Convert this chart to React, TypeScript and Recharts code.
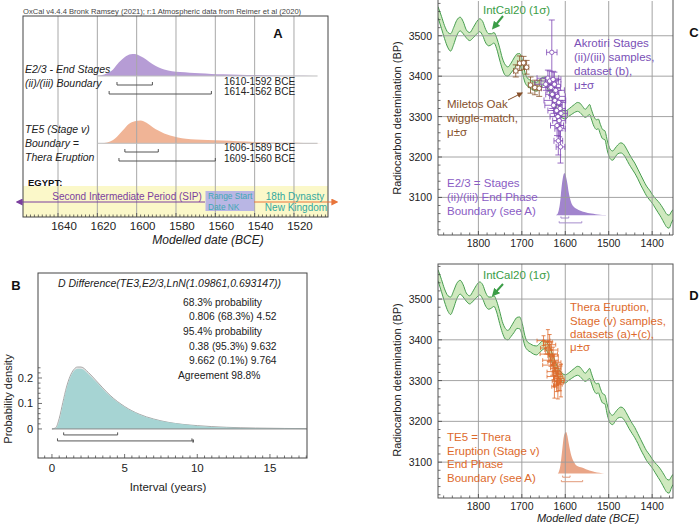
import React from 'react';
import { ComposedChart, Area, Scatter, ErrorBar, XAxis, YAxis, ReferenceLine, ReferenceArea } from 'recharts';

const FONT = '"Liberation Sans", Arial, Helvetica, sans-serif';

// ---- A: boundary distributions (year BCE -> relative density)
const e23Years = [1622, 1618, 1615, 1612, 1609, 1606, 1603, 1601, 1598, 1595, 1592, 1589, 1586, 1582, 1578, 1573, 1568, 1562, 1556, 1548, 1540, 1530, 1520, 1510, 1505];
const e23Density = [0, 0.03, 0.12, 0.3, 0.62, 0.86, 0.99, 1, 0.9, 0.74, 0.54, 0.4, 0.29, 0.22, 0.18, 0.15, 0.12, 0.095, 0.075, 0.055, 0.04, 0.025, 0.012, 0.004, 0];
const te5Years = [1618, 1615, 1612, 1610, 1607, 1604, 1601, 1598, 1595, 1592, 1589, 1586, 1583, 1579, 1575, 1570, 1564, 1556, 1549, 1540, 1532, 1522, 1515, 1505];
const te5Density = [0, 0.04, 0.15, 0.29, 0.57, 0.85, 0.97, 1, 0.9, 0.72, 0.56, 0.43, 0.34, 0.26, 0.2, 0.17, 0.15, 0.12, 0.09, 0.06, 0.04, 0.02, 0.01, 0];
const e23Range68 = [1610, 1592];
const e23Range95 = [1614, 1562];
const te5Range68 = [1606, 1589];
const te5Range95 = [1609, 1560];
const nkRangeStart = [1565, 1540];
const aTicks = [1640, 1620, 1600, 1580, 1560, 1540, 1520];

// ---- B: interval TE3 - E2/3 (years -> probability density)
const intervalX = [0, 0.25, 0.5, 0.75, 1, 1.25, 1.5, 1.75, 2, 2.5, 3, 3.5, 4, 5, 6, 7, 8, 9, 10, 12, 14, 16, 17.5];
const priorDensity = [0, 0.004, 0.041, 0.104, 0.164, 0.207, 0.233, 0.243, 0.243, 0.222, 0.192, 0.161, 0.132, 0.088, 0.058, 0.039, 0.026, 0.018, 0.013, 0.0065, 0.0035, 0.002, 0.0013];
const posteriorDensity = [0, 0.002, 0.03, 0.095, 0.157, 0.2, 0.226, 0.236, 0.236, 0.216, 0.187, 0.157, 0.129, 0.086, 0.057, 0.038, 0.026, 0.018, 0.012, 0.006, 0.003, 0.0015, 0.001];
const diff68 = [0.806, 4.52];
const diff95 = [0.38, 9.632];
const diff95b = [9.662, 9.764];
const bTicksX = [0, 5, 10, 15];
const bTicksY = [0, 0.1, 0.2];

// ---- C/D: IntCal20 1-sigma band (year BCE -> BP)
const calYears = [1893, 1885, 1878, 1870, 1864, 1857, 1850, 1842, 1835, 1828, 1820, 1812, 1805, 1797, 1790, 1783, 1776, 1770, 1764, 1758, 1751, 1745, 1738, 1732, 1725, 1718, 1711, 1705, 1699, 1693, 1687, 1680, 1673, 1666, 1660, 1653, 1647, 1640, 1633, 1626, 1620, 1613, 1606, 1600, 1593, 1586, 1579, 1572, 1566, 1560, 1554, 1548, 1544, 1540, 1534, 1528, 1524, 1519, 1514, 1509, 1503, 1497, 1491, 1485, 1479, 1472, 1466, 1460, 1453, 1446, 1440, 1433, 1426, 1419, 1413, 1406, 1400, 1393, 1386, 1379, 1372, 1366, 1361, 1356, 1352];
const calUpper = [3572, 3548, 3525, 3508, 3505, 3520, 3538, 3546, 3535, 3515, 3508, 3520, 3533, 3542, 3535, 3515, 3505, 3505, 3508, 3495, 3470, 3445, 3428, 3423, 3432, 3445, 3455, 3456, 3440, 3410, 3395, 3390, 3386, 3385, 3390, 3397, 3398, 3390, 3375, 3355, 3338, 3325, 3317, 3314, 3318, 3324, 3330, 3335, 3333, 3325, 3318, 3325, 3330, 3318, 3300, 3292, 3294, 3280, 3268, 3265, 3240, 3220, 3215, 3222, 3230, 3235, 3232, 3222, 3208, 3195, 3185, 3170, 3155, 3140, 3128, 3118, 3108, 3098, 3090, 3080, 3068, 3058, 3056, 3064, 3070];
const calLower = [3545, 3518, 3493, 3470, 3462, 3478, 3500, 3512, 3505, 3495, 3488, 3495, 3503, 3510, 3500, 3482, 3475, 3478, 3482, 3468, 3440, 3418, 3402, 3400, 3408, 3418, 3428, 3427, 3410, 3385, 3375, 3370, 3365, 3363, 3368, 3375, 3378, 3368, 3352, 3333, 3316, 3303, 3296, 3294, 3300, 3305, 3310, 3313, 3310, 3303, 3298, 3302, 3305, 3294, 3276, 3268, 3270, 3256, 3245, 3243, 3215, 3196, 3192, 3200, 3208, 3210, 3206, 3196, 3182, 3170, 3160, 3146, 3130, 3116, 3104, 3094, 3086, 3074, 3062, 3050, 3036, 3026, 3024, 3036, 3045];
const calTicksX = [1800, 1700, 1600, 1500, 1400];
const bpTicks = [3100, 3200, 3300, 3400, 3500];

// Miletos oak wiggle-match
const oakYear = [1714, 1705, 1696, 1689, 1680, 1670, 1660];
const oakBP = [3413, 3432, 3433, 3422, 3378, 3372, 3370];
const oakErrBP = [15, 18, 16, 17, 20, 18, 20];
const oakErrYr = [5, 5, 5, 5, 5, 5, 5];

// Akrotiri stages (ii)/(iii), dataset (b)
const akYear = [1631, 1640, 1636, 1628, 1625, 1633, 1622, 1630, 1618, 1624, 1615, 1627, 1612, 1620, 1610, 1617, 1614, 1619, 1612, 1616, 1611, 1645];
const akBP = [3459, 3395, 3388, 3392, 3380, 3372, 3365, 3355, 3350, 3340, 3335, 3328, 3320, 3315, 3308, 3300, 3290, 3278, 3270, 3240, 3225, 3380];
const akErrBP = [80, 20, 25, 20, 30, 20, 25, 35, 20, 25, 30, 20, 20, 25, 30, 20, 40, 25, 30, 35, 40, 15];
const akErrYr = [12, 25, 20, 18, 15, 22, 20, 15, 18, 25, 15, 20, 12, 20, 15, 18, 15, 15, 12, 10, 10, 25];

// Thera eruption stage (v), datasets (a)+(c)
const thYear = [1650, 1640, 1636, 1645, 1632, 1638, 1628, 1634, 1625, 1630, 1622, 1627, 1618, 1624, 1615, 1620, 1612, 1617, 1610, 1625];
const thBP = [3398, 3395, 3388, 3380, 3375, 3365, 3360, 3350, 3345, 3338, 3330, 3322, 3318, 3310, 3305, 3298, 3295, 3290, 3300, 3285];
const thErrBP = [12, 30, 25, 15, 20, 18, 22, 15, 20, 25, 18, 20, 25, 22, 30, 25, 20, 35, 40, 28];
const thErrYr = [15, 10, 14, 12, 15, 20, 12, 18, 15, 22, 12, 15, 10, 18, 12, 10, 8, 10, 8, 6];

const seq = (a: number, b: number, step: number) => {
  const out: number[] = [];
  for (let v = a; v <= b + 1e-9; v += step) out.push(Math.round(v * 1000) / 1000);
  return out;
};
const isMajor = (list: number[], v: number) => list.some((m) => Math.abs(m - v) < 1e-6);

const xTick = (majors: number[], gap: number, size: number, dx = 0) => (props: any) => {
  const { x, y, payload } = props;
  const major = isMajor(majors, payload.value);
  return (
    <g>
      <line x1={x} x2={x} y1={y} y2={y - (major ? 4 : 2.5)} stroke="#333" strokeWidth={0.7} />
      {major && (
        <text x={x + dx} y={y + gap} textAnchor="middle" dominantBaseline="central" fontSize={size} fill="#222" fontFamily={FONT}>
          {payload.value}
        </text>
      )}
    </g>
  );
};

const yTick = (majors: number[], gap: number, size: number) => (props: any) => {
  const { x, y, payload } = props;
  const major = isMajor(majors, payload.value);
  return (
    <g>
      <line x1={x} x2={x + (major ? 4 : 2.5)} y1={y} y2={y} stroke="#333" strokeWidth={0.7} />
      {major && (
        <text x={x - gap} y={y} textAnchor="end" dominantBaseline="central" fontSize={size} fill="#222" fontFamily={FONT}>
          {payload.value}
        </text>
      )}
    </g>
  );
};

function bracket(key: string, r: number[], y: number, h: number, color: string, yAxisId: any = 0, w = 1) {
  const p: any = { stroke: color, strokeWidth: w, yAxisId, ifOverflow: 'visible' };
  return [
    <ReferenceLine key={key + 'h'} segment={[{ x: r[0], y }, { x: r[1], y }]} {...p} />,
    <ReferenceLine key={key + 'a'} segment={[{ x: r[0], y }, { x: r[0], y: y + h }]} {...p} />,
    <ReferenceLine key={key + 'b'} segment={[{ x: r[1], y }, { x: r[1], y: y + h }]} {...p} />,
  ];
}

const e23Data = e23Years.map((x, i) => ({ x, d: e23Density[i] }));
const te5Data = te5Years.map((x, i) => ({ x, d: te5Density[i] }));
const priorData = intervalX.map((x, i) => ({ x, d: priorDensity[i] }));
const postData = intervalX.map((x, i) => ({ x, d: posteriorDensity[i] }));
const calData = calYears.map((x, i) => ({ x, band: [calLower[i], calUpper[i]] }));
const oakData = oakYear.map((x, i) => ({ x, y: oakBP[i], ey: oakErrBP[i], ex: oakErrYr[i] }));
const akData = akYear.map((x, i) => ({ x, y: akBP[i], ey: akErrBP[i], ex: akErrYr[i] }));
const thData = thYear.map((x, i) => ({ x, y: thBP[i], ey: thErrBP[i], ex: thErrYr[i] }));

const PURPLE = '#7d46b4';
const ORANGE = '#dd6a2c';
const BROWN = '#86502a';
const GREEN = '#3b9d47';
const GRID = '#9a9a9a';

const openCircle = (color: string, r: number) => (p: any) => (
  <circle cx={p.cx} cy={p.cy} r={r} fill="#fff" stroke={color} strokeWidth={0.8} />
);
const dot = (color: string, r: number) => (p: any) => <circle cx={p.cx} cy={p.cy} r={r} fill={color} />;

function PanelA() {
  return (
    <ComposedChart width={350} height={250} margin={{ top: 16, right: 22, bottom: 13, left: 23 }}>
      <XAxis type="number" dataKey="x" domain={[1502.7, 1657.8]} reversed allowDataOverflow ticks={seq(1504, 1656, 2)} interval={0}
        tickSize={0} tickMargin={0} tickLine={false} axisLine={false} height={20} tick={xTick(aTicks, 9, 11.5, 6)} />
      <YAxis hide type="number" domain={[0, 201]} allowDataOverflow />
      <YAxis hide yAxisId="p" type="number" domain={[-6.409, 2.727]} allowDataOverflow />
      <YAxis hide yAxisId="o" type="number" domain={[-3.247, 5.608]} allowDataOverflow />
      <ReferenceArea y1={0} y2={31} fill="#fbf8c9" fillOpacity={1} stroke="none" />
      <ReferenceArea x1={nkRangeStart[0]} x2={nkRangeStart[1]} y1={6} y2={26} fill="#b9b6e4" fillOpacity={1} stroke="none" />
      {aTicks.map((t) => (
        <ReferenceLine key={'ga' + t} x={t} stroke="#a8a8a8" strokeWidth={1} />
      ))}
      <ReferenceLine yAxisId="p" segment={[{ x: 1620, y: 0 }, { x: 1508, y: 0 }]} stroke="#bdbdbd" />
      <ReferenceLine yAxisId="o" segment={[{ x: 1620, y: 0 }, { x: 1508, y: 0 }]} stroke="#bdbdbd" />
      <Area yAxisId="p" data={e23Data} dataKey="d" type="monotone" fill="#b69cd5" fillOpacity={1} stroke="none" isAnimationActive={false} />
      <Area yAxisId="o" data={te5Data} dataKey="d" type="monotone" fill="#f0b496" fillOpacity={1} stroke="none" isAnimationActive={false} />
      {bracket('e68', e23Range68, 132, 3, '#555')}
      {bracket('e95', e23Range95, 123, 3, '#555')}
      {bracket('t68', te5Range68, 65, 3, '#555')}
      {bracket('t95', te5Range95, 56, 3, '#555')}
    </ComposedChart>
  );
}

function PanelB() {
  return (
    <ComposedChart width={350} height={274} margin={{ top: 23, right: 43, bottom: 46, left: 8 }}>
      <XAxis type="number" dataKey="x" domain={[-0.96, 17.55]} allowDataOverflow ticks={seq(-0.5, 17.5, 0.5)} interval={0}
        tickSize={0} tickMargin={0} tickLine={false} axisLine={false} height={20} tick={xTick(bTicksX, 10, 11.5)} />
      <YAxis type="number" dataKey="y" domain={[-0.114, 0.612]} allowDataOverflow ticks={seq(0, 0.24, 0.02)} interval={0}
        tickSize={0} tickMargin={0} tickLine={false} axisLine={false} width={30} tick={yTick(bTicksY, 5, 11)} />
      <ReferenceLine segment={[{ x: 0, y: 0 }, { x: 17.55, y: 0 }]} stroke="#8a8a8a" />
      <Area data={priorData} dataKey="d" type="monotone" fill="#e6e6e6" fillOpacity={1} stroke="#a9a9a9" strokeWidth={1} isAnimationActive={false} />
      <Area data={postData} dataKey="d" type="monotone" fill="#a6d4d3" fillOpacity={1} stroke="none" isAnimationActive={false} />
      {bracket('d68', diff68, -0.0235, 0.01, '#555')}
      {bracket('d95', diff95, -0.047, 0.01, '#555')}
      <ReferenceLine segment={[{ x: diff95b[0], y: -0.047 }, { x: diff95b[1], y: -0.047 }]} stroke="#444" strokeWidth={3} />
    </ComposedChart>
  );
}

function PanelCal({ which }: { which: 'C' | 'D' }) {
  const isC = which === 'C';
  const domainY = isC ? [3007, 3586] : [3012, 3586];
  const distDomain = isC ? [-0.471, 5.096] : [-0.588, 5.039];
  return (
    <ComposedChart width={350} height={isC ? 260 : 264} margin={{ top: isC ? 1 : 4, right: 27, bottom: isC ? 7 : 8, left: 48 }}>
      <XAxis type="number" dataKey="x" domain={[1352, 1893]} reversed allowDataOverflow ticks={seq(1360, 1880, 20)} interval={0}
        tickSize={0} tickMargin={0} tickLine={false} axisLine={false} height={18} tick={xTick(calTicksX, 8, 10.5)} />
      <YAxis type="number" dataKey="y" domain={domainY} allowDataOverflow ticks={seq(3020, 3580, 20)} interval={0}
        tickSize={0} tickMargin={0} tickLine={false} axisLine={false} width={40} tick={yTick(bpTicks, 6, 10.5)} />
      <YAxis hide yAxisId="dist" type="number" domain={distDomain} allowDataOverflow />
      {calTicksX.map((t) => (
        <ReferenceLine key={'gx' + t} x={t} stroke={GRID} strokeWidth={0.9} />
      ))}
      {bpTicks.map((t) => (
        <ReferenceLine key={'gy' + t} y={t} stroke={GRID} strokeWidth={0.9} />
      ))}
      <Area data={calData} dataKey="band" type="monotone" fill="#cfe9bf" fillOpacity={1} stroke="#479d4f" strokeWidth={1} isAnimationActive={false} />
      {isC ? (
        <Area yAxisId="dist" data={e23Data} dataKey="d" type="monotone" fill="#a184cd" fillOpacity={1} stroke="none" isAnimationActive={false} />
      ) : (
        <Area yAxisId="dist" data={te5Data} dataKey="d" type="monotone" fill="#e9a587" fillOpacity={1} stroke="none" isAnimationActive={false} />
      )}
      {isC
        ? [...bracket('c68', e23Range68, 3049, 4, '#a58ccc'), ...bracket('c95', e23Range95, 3037, 4, '#a58ccc')]
        : [...bracket('d68', te5Range68, 3063, 4, '#e29a7a'), ...bracket('d95', te5Range95, 3052, 4, '#e29a7a')]}
      {isC && (
        <Scatter data={oakData} shape={openCircle(BROWN, 2.3)} isAnimationActive={false}>
          <ErrorBar dataKey="ey" direction="y" width={3} stroke={BROWN} strokeWidth={0.8} />
          <ErrorBar dataKey="ex" direction="x" width={3} stroke={BROWN} strokeWidth={0.8} />
        </Scatter>
      )}
      {isC ? (
        <Scatter data={akData} shape={openCircle(PURPLE, 2.2)} isAnimationActive={false}>
          <ErrorBar dataKey="ey" direction="y" width={3} stroke={PURPLE} strokeWidth={0.8} />
          <ErrorBar dataKey="ex" direction="x" width={3} stroke={PURPLE} strokeWidth={0.8} />
        </Scatter>
      ) : (
        <Scatter data={thData} shape={dot(ORANGE, 1.3)} isAnimationActive={false}>
          <ErrorBar dataKey="ey" direction="y" width={2} stroke={ORANGE} strokeWidth={0.8} />
          <ErrorBar dataKey="ex" direction="x" width={2} stroke={ORANGE} strokeWidth={0.8} />
        </Scatter>
      )}
    </ComposedChart>
  );
}

const T = ({ x, y, s = 11, c = '#222', a = 'start', it = false, b = false, rot = false, children }: any) => (
  <text x={x} y={y} fontSize={s} fill={c} textAnchor={a} dominantBaseline="central" fontStyle={it ? 'italic' : 'normal'}
    fontWeight={b ? 'bold' : 'normal'} transform={rot ? `rotate(-90 ${x} ${y})` : undefined}>
    {children}
  </text>
);

function Overlay() {
  const tx = '#7a4fb6';
  return (
    <svg width={700} height={524} style={{ position: 'absolute', left: 0, top: 0, pointerEvents: 'none' }} fontFamily={FONT}>
      <defs>
        <marker id="hp" viewBox="0 0 10 10" refX="8" refY="5" markerWidth="7" markerHeight="7" markerUnits="userSpaceOnUse" orient="auto">
          <path d="M0,0 L10,5 L0,10 z" fill="#7b3f9e" />
        </marker>
        <marker id="ho" viewBox="0 0 10 10" refX="8" refY="5" markerWidth="7" markerHeight="7" markerUnits="userSpaceOnUse" orient="auto">
          <path d="M0,0 L10,5 L0,10 z" fill="#e8743b" />
        </marker>
        <marker id="hg" viewBox="0 0 10 10" refX="6" refY="5" markerWidth="8" markerHeight="8" markerUnits="userSpaceOnUse" orient="auto">
          <path d="M0,0 L10,5 L0,10 z" fill={GREEN} />
        </marker>
        <marker id="hb" viewBox="0 0 10 10" refX="8" refY="5" markerWidth="6" markerHeight="6" markerUnits="userSpaceOnUse" orient="auto">
          <path d="M0,0 L10,5 L0,10 z" fill={BROWN} />
        </marker>
      </defs>

      {/* frames */}
      <rect x={23} y={16} width={305} height={201} fill="none" stroke="#444" strokeWidth={1} />
      <rect x={38} y={273} width={269} height={185} fill="none" stroke="#444" strokeWidth={1} />
      <path d="M438,0 V235 H673 V0" fill="none" stroke="#555" strokeWidth={1} />
      <rect x={438} y={264} width={235} height={234} fill="none" stroke="#555" strokeWidth={1} />

      {/* A */}
      <T x={23} y={11} s={7.6} c="#444">OxCal v4.4.4 Bronk Ramsey (2021); r:1 Atmospheric data from Reimer et al (2020)</T>
      <T x={278} y={33} s={13} b a="middle" c="#111">A</T>
      <T x={25} y={69} s={10.5} it>E2/3 - End Stages</T>
      <T x={25} y={83} s={10.5} it>(ii)/(iii) Boundary</T>
      <T x={224} y={81.5} s={10}>1610-1592 BCE</T>
      <T x={224} y={91.8} s={10}>1614-1562 BCE</T>
      <T x={25} y={129} s={10.5} it>TE5 (Stage v)</T>
      <T x={25} y={142.5} s={10.5} it>Boundary =</T>
      <T x={25} y={156.5} s={10.5} it>Thera Eruption</T>
      <T x={224} y={147.8} s={10}>1606-1589 BCE</T>
      <T x={224} y={158} s={10}>1609-1560 BCE</T>
      <T x={28} y={182} s={9.5} b c="#111">EGYPT:</T>
      <line x1={205} y1={202} x2={17} y2={202} stroke="#7b3f9e" strokeWidth={1} markerEnd="url(#hp)" />
      <line x1={254} y1={202} x2={337} y2={202} stroke="#e8743b" strokeWidth={1} markerEnd="url(#ho)" />
      <T x={127} y={196} s={10} a="middle" c="#7b3f9e">Second Intermediate Period (SIP)</T>
      <T x={208} y={195.5} s={8.3} c="#3fa7b5">Range Start</T>
      <T x={208} y={206.5} s={8.3} c="#3fa7b5">Date NK</T>
      <T x={295} y={196} s={10} a="middle" c="#33a99f">18th Dynasty</T>
      <T x={296} y={207} s={10} a="middle" c="#33a99f">New Kingdom</T>
      <T x={208} y={240} s={12} a="middle" it>Modelled date (BCE)</T>

      {/* B */}
      <T x={16} y={285.5} s={13} b a="middle" c="#111">B</T>
      <T x={58} y={283} s={10.5} it>D Difference(TE3,E2/3,LnN(1.09861,0.693147))</T>
      <T x={183} y={302.5} s={10.3}>68.3% probability</T>
      <T x={189} y={316.5} s={10.3}>0.806 (68.3%) 4.52</T>
      <T x={183} y={331.5} s={10.3}>95.4% probability</T>
      <T x={189} y={346} s={10.3}>0.38 (95.3%) 9.632</T>
      <T x={189} y={360.5} s={10.3}>9.662 (0.1%) 9.764</T>
      <T x={178} y={375} s={10.3}>Agreement 98.8%</T>
      <T x={7.5} y={399} s={11} a="middle" rot>Probability density</T>
      <T x={168} y={487} s={11.5} a="middle">Interval (years)</T>

      {/* C */}
      <T x={483} y={10} s={11.5} c={GREEN}>IntCal20 (1σ)</T>
      <line x1={503} y1={16} x2={494} y2={27} stroke={GREEN} strokeWidth={2} markerEnd="url(#hg)" />
      <T x={694} y={32} s={13} b a="middle" c="#111">C</T>
      <T x={574} y={43} s={11.5} c={tx}>Akrotiri Stages</T>
      <T x={574} y={57} s={11.5} c={tx}>(ii)/(iii) samples,</T>
      <T x={574} y={71} s={11.5} c={tx}>dataset (b),</T>
      <T x={574} y={85} s={11.5} c={tx}>μ±σ</T>
      <T x={447} y={104} s={11.5} c={BROWN}>Miletos Oak</T>
      <T x={447} y={118} s={11.5} c={BROWN}>wiggle-match,</T>
      <T x={447} y={132} s={11.5} c={BROWN}>μ±σ</T>
      <line x1={508} y1={100} x2={522} y2={93} stroke={BROWN} strokeWidth={1} markerEnd="url(#hb)" />
      <T x={447} y={183} s={11.5} c="#8a5cc4">E2/3 = Stages</T>
      <T x={447} y={197} s={11.5} c="#8a5cc4">(ii)/(iii) End Phase</T>
      <T x={447} y={211} s={11.5} c="#8a5cc4">Boundary (see A)</T>
      <T x={397} y={118} s={11} a="middle" rot>Radiocarbon detemination (BP)</T>

      {/* D */}
      <T x={483} y={275} s={11.5} c={GREEN}>IntCal20 (1σ)</T>
      <line x1={503} y1={284} x2={494} y2={294} stroke={GREEN} strokeWidth={2} markerEnd="url(#hg)" />
      <T x={694} y={295} s={13} b a="middle" c="#111">D</T>
      <T x={570} y={307} s={11.5} c={ORANGE}>Thera Eruption,</T>
      <T x={570} y={321} s={11.5} c={ORANGE}>Stage (v) samples,</T>
      <T x={570} y={334} s={11.5} c={ORANGE}>datasets (a)+(c),</T>
      <T x={570} y={347} s={11.5} c={ORANGE}>μ±σ</T>
      <T x={447} y={437} s={11.5} c={ORANGE}>TE5 = Thera</T>
      <T x={447} y={450.5} s={11.5} c={ORANGE}>Eruption (Stage v)</T>
      <T x={447} y={464} s={11.5} c={ORANGE}>End Phase</T>
      <T x={447} y={477.5} s={11.5} c={ORANGE}>Boundary (see A)</T>
      <T x={397} y={380} s={11} a="middle" rot>Radiocarbon detemination (BP)</T>
      <T x={588} y={518} s={11} a="middle" it>Modelled date (BCE)</T>
    </svg>
  );
}

export default function App() {
  return (
    <div style={{ position: 'absolute', left: 0, top: 0, width: 700, height: 524, background: '#fff', fontFamily: FONT, overflow: 'hidden' }}>
      <div style={{ position: 'absolute', left: 0, top: 0 }}>
        <PanelA />
      </div>
      <div style={{ position: 'absolute', left: 0, top: 250 }}>
        <PanelB />
      </div>
      <div style={{ position: 'absolute', left: 350, top: 0 }}>
        <PanelCal which="C" />
      </div>
      <div style={{ position: 'absolute', left: 350, top: 260 }}>
        <PanelCal which="D" />
      </div>
      <Overlay />
    </div>
  );
}
